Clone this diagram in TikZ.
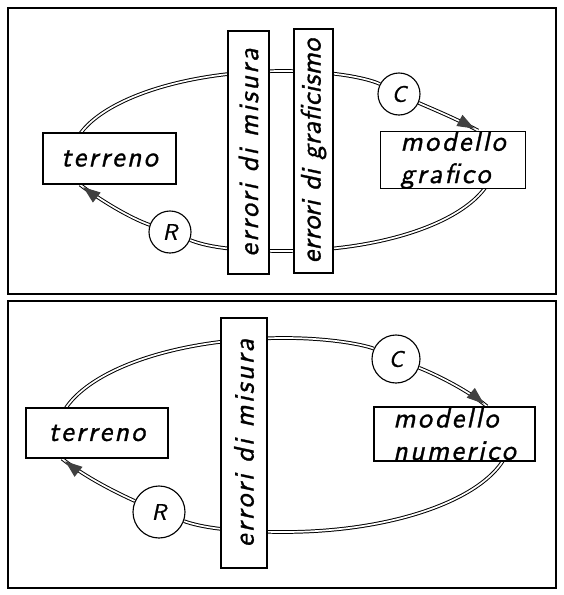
\documentclass[tikz,border=0pt]{standalone}
\usepackage{fontspec}
\usetikzlibrary{arrows.meta,calc,backgrounds,decorations.markings}
\newfontfamily\lettering{lmsans10-oblique.otf}[LetterSpace=8, FakeBold=1]
\newfontfamily\letteringtight{lmsans10-oblique.otf}[LetterSpace=1, FakeBold=1]
\newcommand{\lettersize}{\fontsize{20}{23}\selectfont}

\begin{document}
\begin{tikzpicture}[
    x=0.025cm, y=-0.025cm,
    font=\lettering\lettersize,
    frame/.style={draw, line width=1.4pt},
    lbox/.style={rectangle, draw, line width=0.9pt, fill=white, inner sep=0pt, align=left},
    vbox/.style={lbox, rotate=90, align=center},
    stamp/.style={circle, draw, line width=0.8pt, fill=white, inner sep=0pt,
                  minimum size=1.05cm, font=\lettering\fontsize{16}{16}\selectfont},
    ring/.style={line width=0.7pt, double=white, double distance=1.2pt},
    tipend/.style={postaction={decorate}, decoration={markings,
      mark=at position 1 with {\pgfsetinnerlinewidth{0pt}\arrow[black!75]{Triangle[length=16pt,width=11pt]}}}},
  ]
  \useasboundingbox (0,0) rectangle (564,595);

  % upper panel
  \draw[frame] (8,8) rectangle (556,294);
  \node[lbox, minimum width=3.325cm, minimum height=1.275cm] (terreno1) at (109.5,158.5) {terreno};
  \node[lbox, minimum width=3.625cm, minimum height=1.25cm] (grafico1) at (453,160) {modello\\grafico};
  \node[vbox, minimum width=6.075cm, minimum height=1.025cm] (misura1) at (248.5,152.5) {errori di misura};
  \node[vbox, minimum width=6.1cm, minimum height=0.975cm, font=\letteringtight\lettersize] (graficismo1) at (313.5,151) {errori di graficismo};
  \node[stamp] (C1) at (399,94) {C};
  \node[stamp] (R1) at (170,232) {R};
  \begin{scope}[on background layer]
    \draw[ring] ($(terreno1.center)+(-38,0)$) .. controls (71,111) and (166,71) .. (283,71)
      .. controls (340,71) and (372,80) .. (C1);
    \draw[ring, tipend] (C1) .. controls (430,108) and (455,118) .. ($(grafico1.north)+(25,0)$);
    \draw[ring] ($(grafico1.center)+(42,0)$) .. controls (495,211) and (400,251) .. (283,251)
      .. controls (230,251) and (205,246) .. (R1);
    \draw[ring, tipend] (R1) .. controls (130,218) and (100,200) .. ($(terreno1.south)+(-29.5,0)$);
  \end{scope}

  % lower panel
  \draw[frame] (8,301) rectangle (556,588);
  \node[lbox, minimum width=3.55cm, minimum height=1.25cm] (terreno2) at (97,433) {terreno};
  \node[lbox, minimum width=4.025cm, minimum height=1.35cm] (numerico2) at (454.5,434) {modello\\numerico};
  \node[vbox, minimum width=6.25cm, minimum height=1.15cm] (misura2) at (244,443) {errori di misura};
  \node[stamp, minimum size=1.2cm] (C2) at (396,359) {C};
  \node[stamp, minimum size=1.3cm] (R2) at (159,512) {R};
  \begin{scope}[on background layer]
    \draw[ring] ($(terreno2.center)+(-40,2)$) .. controls (57,381) and (159,338) .. (284,338)
      .. controls (335,338) and (368,346) .. (C2);
    \draw[ring, tipend] (C2) .. controls (430,372) and (465,388) .. ($(numerico2.north)+(32.5,0)$);
    \draw[ring] ($(numerico2.center)+(56.5,1)$) .. controls (511,489) and (409,532) .. (284,532)
      .. controls (230,532) and (200,527) .. (R2);
    \draw[ring, tipend] (R2) .. controls (115,492) and (85,477) .. ($(terreno2.south)+(-35,0)$);
  \end{scope}
\end{tikzpicture}
\end{document}
